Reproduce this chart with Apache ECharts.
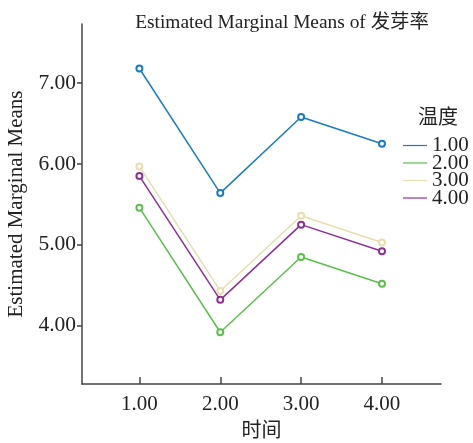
<!DOCTYPE html>
<html>
<head>
<meta charset="utf-8">
<script src="https://cdn.jsdelivr.net/npm/echarts@6/dist/echarts.min.js"></script>
<style>
html,body{margin:0;padding:0;background:#fff;}
#c{width:473px;height:443px;}
</style>
</head>
<body>
<div id="c"></div>
<script>
const timeCategories = [1, 2, 3, 4];
const xTickValues = [1, 2, 3, 4];
const yTickValues = [4, 5, 6, 7];
const seriesNames = ['1.00', '2.00', '3.00', '4.00'];
const temp1 = [7.18, 5.64, 6.58, 6.25];
const temp2 = [5.46, 3.92, 4.85, 4.52];
const temp3 = [5.97, 4.43, 5.36, 5.03];
const temp4 = [5.85, 4.32, 5.25, 4.92];
const colors = ['#1a7cc1', '#5bbf4b', '#e8ddb0', '#8f2f96'];

const serif = '"Liberation Serif", "Noto Sans CJK SC", serif';
const allSeries = [temp1, temp2, temp3, temp4];

const chart = echarts.init(document.getElementById('c'), null, {renderer: 'canvas'});
chart.setOption({
  animation: false,
  backgroundColor: '#fff',
  title: [
    {text: 'Estimated Marginal Means of 发芽率', left: 277, top: 8, textAlign: 'center',
     textStyle: {fontFamily: serif, fontSize: 19.4, fontWeight: 'normal', color: '#222'}},
    {text: '温度', left: 433, top: 104, textAlign: 'center',
     textStyle: {fontFamily: serif, fontSize: 20, fontWeight: 'normal', color: '#222'}}
  ],
  legend: {
    orient: 'vertical', left: 403, top: 135, padding: 0,
    icon: 'rect', itemWidth: 24, itemHeight: 1.2, itemGap: -3.5,
    itemStyle: {borderWidth: 0},
    lineStyle: {width: 0},
    textStyle: {fontFamily: serif, fontSize: 21, color: '#222'},
    data: seriesNames
  },
  grid: {left: 82, top: 24, right: 32, bottom: 59, containLabel: false, outerBoundsMode: 'none'},
  xAxis: {
    type: 'value', min: 0.29, max: 4.73,
    name: '时间', nameLocation: 'middle', nameGap: 38,
    nameTextStyle: {fontFamily: serif, fontSize: 20, color: '#222'},
    axisLine: {lineStyle: {color: '#444', width: 1.5}},
    axisTick: {show: true, inside: true, length: 7, customValues: xTickValues, lineStyle: {color: '#444', width: 1.5}},
    axisLabel: {customValues: xTickValues, margin: 10, fontFamily: serif, fontSize: 21, color: '#222',
      formatter: v => v.toFixed(2)},
    splitLine: {show: false}
  },
  yAxis: {
    type: 'value', min: 3.28, max: 7.73,
    name: 'Estimated Marginal Means', nameLocation: 'middle', nameGap: 53,
    nameTextStyle: {fontFamily: serif, fontSize: 21, color: '#222'},
    axisLine: {show: true, lineStyle: {color: '#444', width: 1.5}},
    axisTick: {show: true, length: 5, customValues: yTickValues, lineStyle: {color: '#444', width: 1.5}},
    axisLabel: {customValues: yTickValues, margin: 6, fontFamily: serif, fontSize: 21.5, color: '#222',
      formatter: v => v.toFixed(2)},
    splitLine: {show: false}
  },
  series: allSeries.map((vals, i) => ({
    name: seriesNames[i], type: 'line',
    data: vals.map((v, j) => [timeCategories[j], v]),
    symbol: 'emptyCircle', symbolSize: 6,
    lineStyle: {color: colors[i], width: 1.5},
    itemStyle: {color: colors[i], borderColor: colors[i], borderWidth: 1.5}
  }))
});
</script>
</body>
</html>
